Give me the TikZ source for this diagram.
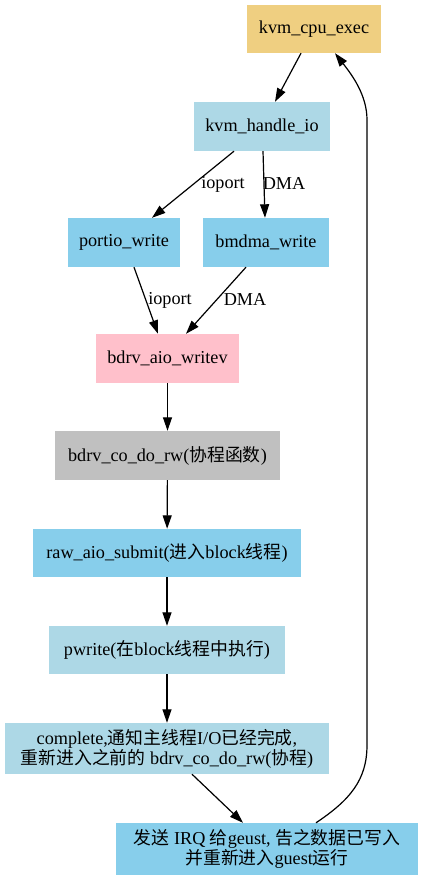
\documentclass[tikz,border=0pt]{standalone}
\usepackage{fontspec}
\setmainfont{Liberation Serif}
\newfontfamily\cjk[Scale=0.98]{Noto Sans CJK SC}
\usetikzlibrary{arrows.meta}
\definecolor{cgold}{HTML}{EFCF81}
\definecolor{clblue}{HTML}{ADD8E6}
\definecolor{csky}{HTML}{87CEEB}
\definecolor{cpink}{HTML}{FFC0CB}
\definecolor{cgray}{HTML}{C0C0C0}
\begin{document}
\begin{tikzpicture}[x=1pt,y=-1pt,
  box/.style={rectangle,inner sep=0pt,align=center,font=\fontsize{18.2}{20}\selectfont},
  edge/.style={draw,line width=1.2pt,-{Triangle[length=13.5pt,width=9pt]}},
  lab/.style={font=\fontsize{18.2}{20}\selectfont,inner sep=0pt}]
\useasboundingbox (0,0) rectangle (423,880);
\node[box,fill=cgold,minimum width=134pt,minimum height=48pt] (cpu) at (314,29) {kvm\_cpu\_exec};
\node[box,fill=clblue,minimum width=136pt,minimum height=49pt] (hio) at (262,126.5) {kvm\_handle\_io};
\node[box,fill=csky,minimum width=112pt,minimum height=49pt] (pio) at (124,242.5) {portio\_write};
\node[box,fill=csky,minimum width=126pt,minimum height=49pt] (bm) at (266,242.5) {bmdma\_write};
\node[box,fill=cpink,minimum width=143pt,minimum height=49pt] (aio) at (167.5,358.5) {bdrv\_aio\_writev};
\node[box,fill=cgray,minimum width=225pt,minimum height=49pt] (co) at (167.5,455.5) {bdrv\_co\_do\_rw({\cjk 协程函数})};
\node[box,fill=csky,minimum width=268pt,minimum height=48pt] (raw) at (167,553) {raw\_aio\_submit({\cjk 进入}block{\cjk 线程})};
\node[box,fill=clblue,minimum width=236pt,minimum height=48pt] (pw) at (167,650) {pwrite({\cjk 在}block{\cjk 线程中执行})};
\node[box,fill=clblue,minimum width=324pt,minimum height=51pt] (cmp) at (167,748.5) {complete,{\cjk 通知主线程}I/O{\cjk 已经完成}, \\ {\cjk 重新进入之前的} bdrv\_co\_do\_rw({\cjk 协程})};
\node[box,fill=csky,minimum width=302pt,minimum height=52pt] (irq) at (267,849) {{\cjk 发送} IRQ {\cjk 给}geust, {\cjk 告之数据已写入}\\{\cjk 并重新进入}guest{\cjk 运行}};

\path[edge] ([xshift=-13pt]cpu.south) -- ([xshift=13pt]hio.north);
\path[edge] ([xshift=-28pt]hio.south) -- ([xshift=28pt]pio.north);
\path[edge] ([xshift=1pt]hio.south) -- ([xshift=-1pt]bm.north);
\path[edge] ([xshift=10pt]pio.south) -- ([xshift=-9.5pt]aio.north);
\path[edge] ([xshift=-20pt]bm.south) -- ([xshift=18.5pt]aio.north);
\path[edge] (aio) -- (co);
\path[edge] (co) -- (raw);
\path[edge] (raw) -- (pw);
\path[edge] (pw) -- (cmp);
\path[edge] ([xshift=25pt]cmp.south) -- ([xshift=-24pt]irq.north);
\path[edge] ([xshift=49pt]irq.north) .. controls (350,800) and (367,780) .. (367,745) -- (367,120) .. controls (367,95) and (352,75) .. ([xshift=21pt]cpu.south);

\node[lab] (l1) at (223,184) {ioport};
\node[lab] (l2) at (284,184) {DMA};
\node[lab] (l3) at (170,300) {ioport};
\node[lab] (l4) at (245,300) {DMA};
\end{tikzpicture}
\end{document}
